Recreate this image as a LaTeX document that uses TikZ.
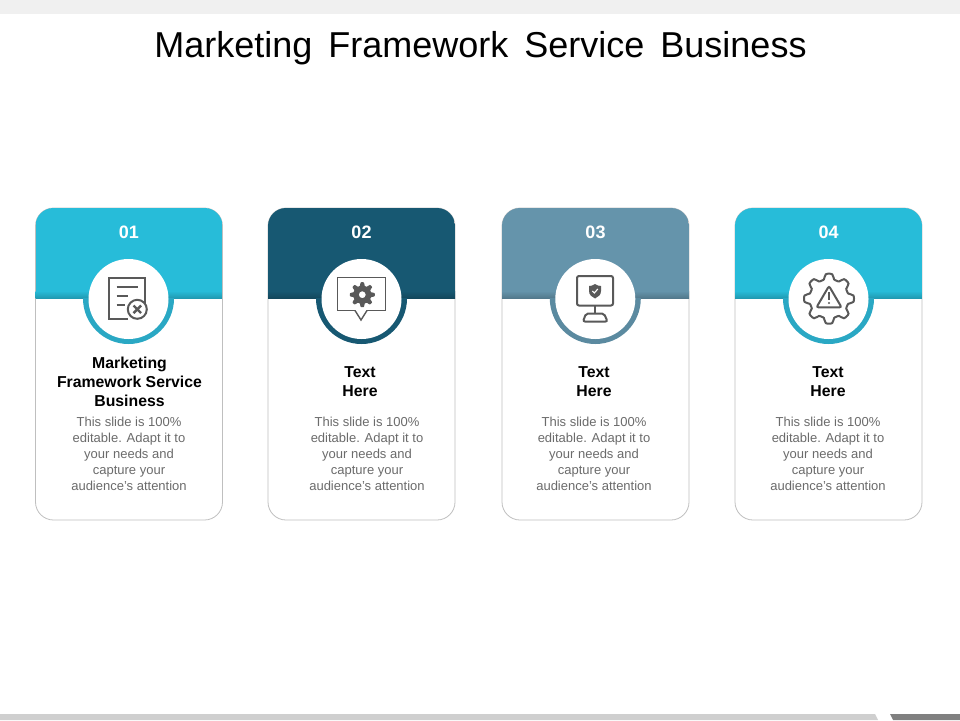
\documentclass[tikz,border=0pt]{standalone}
\usepackage{fontspec}
\setmainfont{Liberation Sans}
\definecolor{cyanhead}{HTML}{27BCD9}
\definecolor{cyanring}{HTML}{2AA8C4}
\definecolor{navyhead}{HTML}{175872}
\definecolor{steelhead}{HTML}{6594AB}
\definecolor{steelring}{HTML}{5B8AA0}
\definecolor{icongray}{HTML}{595959}
\definecolor{bodygray}{HTML}{6B6B6B}
\newcommand{\gearoutline}[2]{%
plot[smooth cycle, samples=96, domain=0:356.25] ({\x}:{(#1+#2)/2+(#1-#2)/2*max(-1,min(1,1.7*cos(8*\x)))})}

\begin{document}
\begin{tikzpicture}[x=1pt,y=-1pt,
card/.style={draw=black!25, line width=0.8pt, fill=white, rounded corners=18pt, minimum width=187pt, minimum height=312pt, outer sep=0pt},
number/.style={text=white, font=\bfseries\fontsize{18}{20}\selectfont},
dot/.style={circle, fill=white, minimum size=80pt, inner sep=0pt},
heading/.style={align=center, text=black, font=\bfseries\fontsize{15.8}{19}\selectfont},
body/.style={align=center, text=bodygray, font=\fontsize{13}{16}\selectfont},
icon/.style={draw=icongray, line width=2pt}]

\useasboundingbox (0,0) rectangle (960,720);
% strips
\fill[black!6] (0,0) rectangle (960,14);
\fill[black!19] (0,714) -- (875,714) -- (878,720) -- (0,720) -- cycle;
\fill[black!50] (890,714) -- (960,714) -- (960,720) -- (893,720) -- cycle;
\node (title) at (480.5,48) {\fontsize{36}{40}\selectfont Marketing\, Framework\, Service\, Business};

\foreach \n/\cx/\dx/\head/\ring/\hx/\hy/\bx/\txt in {
1/129/128.5/cyanhead/cyanring/129.5/382/129/{Marketing\\Framework Service\\Business},
2/361.5/361.5/navyhead/navyhead/360/381.5/367/{Text\\Here},
3/595.5/595.3/steelhead/steelring/594/381.5/594/{Text\\Here},
4/828.5/828.5/cyanhead/cyanring/828/381.5/828/{Text\\Here}}{
\node[card] (card\n) at (\cx,364) {};
\begin{scope}
\clip[rounded corners=18pt] (card\n.south west) rectangle (card\n.north east);
\fill[\head] (card\n.north west) rectangle (\cx+93.5,291);
\shade[top color=\head, bottom color=\head!82!black] (\cx-93.5,291) rectangle (\cx+93.5,298);
\end{scope}
\begin{scope}
\clip (\dx-50,298) rectangle (\dx+50,350);
\fill[\ring] (\dx,298.5) circle (45.5);
\end{scope}
\node[dot] (dot\n) at (\dx,299) {};
\node[number] (num\n) at (\cx,232) {0\n};
\node[heading] (head\n) at (\hx,\hy) {\txt};
\node[body] (body\n) at (\bx,454) {This slide is 100\%\\editable. Adapt it to\\your needs and\\capture your\\audience's attention};
}

% document with cross
\draw[icon] (145,305) -- (145,278) -- (109,278) -- (109,318.5) -- (128,318.5);
\draw[icon] (116.7,286.7) -- (138,286.7) (116.7,296) -- (128,296) (116.7,305) -- (125,305);
\draw[icon, fill=white] (137.3,309.3) circle (9.5);
\draw[icon, line width=2.4pt] (133.5,305.5) -- (141.1,313.1) (141.1,305.5) -- (133.5,313.1);

% speech box with gear
\draw[icon, line width=1.4pt] (337.5,277.5) rectangle (385.5,310.5);
\draw[icon, line width=1.4pt, fill=white] (355,310.5) -- (361,320) -- (367,310.5);
\draw[draw=white, line width=1.6pt] (355.8,310.5) -- (366.2,310.5);
\begin{scope}[shift={(362.3,294.7)}, x=1pt, y=1pt]
\fill[icongray, even odd rule] \gearoutline{12.5}{9} (0,0) circle (3.5);
\end{scope}

% monitor with shield
\draw[icon, rounded corners=2pt] (577,276) rectangle (613,305.5);
\draw[icon] (595,305.5) -- (595,313.5);
\draw[icon, rounded corners=2pt] (583,321.5) -- (586,313.5) -- (604,313.5) -- (607.5,321.5) -- cycle;
\fill[icongray] (595,284) .. controls (597,285.5) and (599,286) .. (601,286) -- (601,291) .. controls (601,295) and (598,297) .. (595,298.5) .. controls (592,297) and (589,295) .. (589,291) -- (589,286) .. controls (591,286) and (593,285.5) .. (595,284) -- cycle;
\draw[white, line width=1.1pt] (592.3,291) -- (594.3,293) -- (597.8,289);

% gear with warning sign
\begin{scope}[shift={(829,298.7)}, x=1pt, y=1pt]
\draw[icon] \gearoutline{25}{19.5};
\end{scope}
\draw[icon, rounded corners=2pt] (829,286) -- (841.5,307.3) -- (816.5,307.3) -- cycle;
\draw[icon, line width=1.6pt] (829,292) -- (829,299.5);
\fill[icongray] (829,303) circle (1.1);
\end{tikzpicture}
\end{document}
